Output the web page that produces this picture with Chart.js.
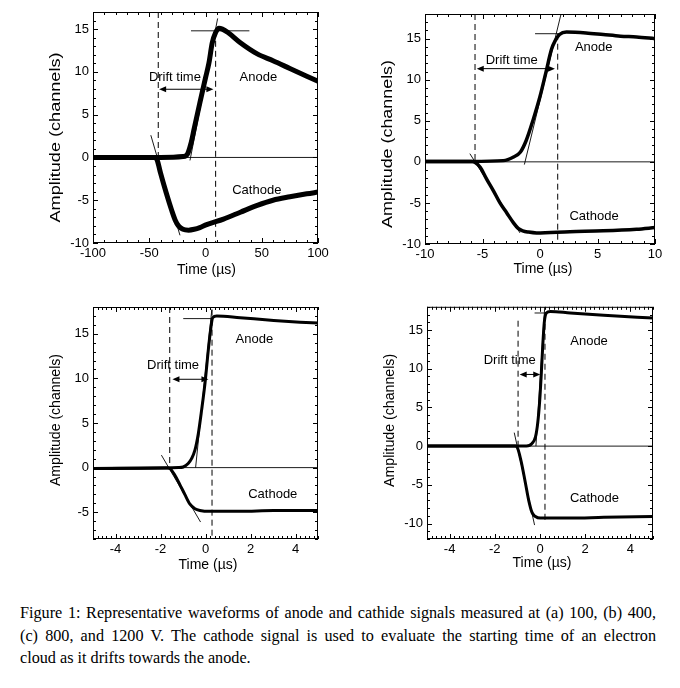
<!DOCTYPE html>
<html>
<head>
<meta charset="utf-8">
<script src="https://cdn.jsdelivr.net/npm/chart.js@4.4.1/dist/chart.umd.min.js"></script>
<style>
  body { margin: 0; background: #fff; width: 680px; height: 688px; position: relative; overflow: hidden; }
  canvas { position: absolute; }
  #caption { position: absolute; left: 20px; top: 602px; width: 636px; color: #000;
    font-family: "Liberation Serif", "DejaVu Serif", serif; font-size: 16.2px; line-height: 22.5px; }
  #caption div { text-align: justify; text-align-last: justify; white-space: nowrap; }
  #caption div.last { text-align-last: left; }
</style>
</head>
<body>
<canvas id="pa" width="340" height="295" style="left:0;top:0"></canvas>
<canvas id="pb" width="340" height="295" style="left:340px;top:0"></canvas>
<canvas id="pc" width="340" height="295" style="left:0;top:295px"></canvas>
<canvas id="pd" width="340" height="295" style="left:340px;top:295px"></canvas>
<div id="caption">
  <div>Figure 1: Representative waveforms of anode and cathide signals measured at (a) 100, (b) 400,</div>
  <div>(c) 800, and 1200 V. The cathode signal is used to evaluate the starting time of an electron</div>
  <div class="last">cloud as it drifts towards the anode.</div>
</div>
<script>
// (a) 100 V
const aXTicks = [-100, -50, 0, 50, 100];
const aYTicks = [-10, -5, 0, 5, 10, 15];
const aAnodeX = [-100, -80, -60, -40, -20, -16, -13, -10, -5, 0, 3, 6, 9, 12, 15, 20, 31, 46, 60, 75, 90, 100];
const aAnodeY = [0, 0, 0, 0, 0.1, 0.4, 1.6, 3.4, 6.4, 9.3, 11, 13.4, 14.6, 15.1, 15.0, 14.6, 13.4, 12.1, 11.3, 10.4, 9.5, 8.9];
const aCathodeX = [-100, -45, -43, -40, -35, -30, -27, -24, -20, -15, -10, -5, 1, 16, 31, 46, 60, 75, 90, 100];
const aCathodeY = [0, 0, -0.3, -1.8, -4.1, -6.2, -7.3, -8.0, -8.4, -8.5, -8.4, -8.2, -7.85, -7.2, -6.4, -5.6, -5.0, -4.6, -4.25, -4.05];

// (b) 400 V
const bXTicks = [-10, -5, 0, 5, 10];
const bYTicks = [-10, -5, 0, 5, 10, 15];
const bAnodeX = [-10, -6, -3.2, -2.3, -1.7, -1.2, -0.6, 0, 0.5, 1.0, 1.3, 1.7, 2.3, 4, 5.5, 7, 8.4, 10];
const bAnodeY = [0.05, 0.05, 0.15, 0.6, 1.2, 2.6, 5.1, 7.95, 10.8, 13.7, 14.7, 15.5, 15.8, 15.7, 15.5, 15.3, 15.2, 15.0];
const bCathodeX = [-10, -5.9, -5.6, -5.2, -4.64, -4.06, -3.48, -2.9, -2.32, -1.9, -1.5, -1.0, -0.3, 2.6, 5.5, 8.4, 10];
const bCathodeY = [0.05, 0.05, -0.1, -0.65, -2.1, -3.5, -5.0, -6.2, -7.4, -8.1, -8.4, -8.55, -8.65, -8.5, -8.4, -8.2, -8.0];

// (c) 800 V
const cXTicks = [-4, -2, 0, 2, 4];
const cYTicks = [-5, 0, 5, 10, 15];
const cAnodeX = [-5, -1.2, -0.99, -0.77, -0.62, -0.47, -0.32, -0.17, -0.02, 0.13, 0.23, 0.32, 0.5, 1.54, 3.03, 4.2, 5];
const cAnodeY = [-0.1, 0, 0.07, 0.45, 1.0, 1.95, 3.8, 6.5, 9.5, 13.3, 15.5, 16.8, 17.0, 16.8, 16.5, 16.3, 16.2];
const cCathodeX = [-5, -1.7, -1.59, -1.36, -1.14, -0.92, -0.69, -0.47, -0.25, 0.2, 1.54, 3.03, 5];
const cCathodeY = [-0.1, -0.05, -0.1, -0.85, -1.9, -3.0, -4.1, -4.6, -4.8, -4.9, -4.9, -4.8, -4.8];

// (d) 1200 V
const dXTicks = [-4, -2, 0, 2, 4];
const dYTicks = [-10, -5, 0, 5, 10, 15];
const dAnodeX = [-5, -0.6, -0.35, -0.2, -0.1, -0.01, 0.06, 0.13, 0.19, 0.28, 0.46, 1.34, 2.82, 4.3, 5];
const dAnodeY = [0, 0, 0.35, 1.2, 3.0, 6.0, 9.5, 13.4, 16.0, 17.2, 17.4, 17.2, 16.9, 16.65, 16.55];
const dCathodeX = [-5, -1.1, -1.02, -0.84, -0.65, -0.5, -0.35, -0.2, 0.01, 1.34, 2.82, 5];
const dCathodeY = [0, 0, -0.1, -1.9, -4.7, -7.0, -8.6, -9.1, -9.3, -9.3, -9.2, -9.1];

// guide lines: [x1, y1, x2, y2]
const aGuides = { anodeFit: [-13.8, -0.35, 10.8, 16.25], peak: [-12.9, 14.8, 39, 14.8], cathodeFit: [-48.6, 2.6, -22.7, -9.1],
  dashL: [-42, 17, -42, 0], dashR: [9, 14.8, 9, -10], arrow: [-41.2, 7.97, 7, 7.97] };
const bGuides = { anodeFit: [-1.36, -0.33, 1.83, 18], peak: [-0.43, 15.6, 1.74, 15.6], cathodeFit: [-6.1, 1.0, -1.74, -8.65],
  dashL: [-5.65, 18, -5.65, 0], dashR: [1.54, 15.6, 1.54, -10], arrow: [-5.5, 11.35, 1.3, 11.35] };
const cGuides = { anodeFit: [-0.44, 0, 0.28, 17.7], peak: [-0.99, 16.7, 0.28, 16.7], cathodeFit: [-1.96, 1.4, -0.22, -6.1],
  dashL: [-1.59, 18, -1.59, 0], dashR: [0.29, 17.7, 0.29, -8], arrow: [-1.47, 9.9, 0.13, 9.9] };
const dGuides = { anodeFit: [-0.18, 0, 0.21, 18], peak: [-0.24, 17.2, 0.24, 17.2], cathodeFit: [-1.14, 1.74, -0.24, -10.2],
  dashL: [-0.97, 16.2, -0.97, 0], dashR: [0.22, 17.1, 0.22, -9.9], arrow: [-0.9, 9.26, 0.01, 9.26] };

// text labels: [text, x, y]
const aLabels = [["Drift time", -27.2, 9.3], ["Anode", 47, 9.3], ["Cathode", 45.6, -3.8]];
const bLabels = [["Drift time", -2.46, 12.4], ["Anode", 4.67, 13.9], ["Cathode", 4.7, -6.7]];
const cLabels = [["Drift time", -1.44, 11.4], ["Anode", 2.17, 14.4], ["Cathode", 2.99, -3.05]];
const dLabels = [["Drift time", -1.34, 11.1], ["Anode", 2.17, 13.5], ["Cathode", 2.41, -6.7]];

const FONT = '"Liberation Sans", Arial, Helvetica, sans-serif';

function pts(xs, ys) { return xs.map((v, i) => ({ x: v, y: ys[i] })); }
function seg(g) { return [{ x: g[0], y: g[1] }, { x: g[2], y: g[3] }]; }

const decor = {
  id: 'decor',
  afterDatasetsDraw(chart) {
    const p = chart.options.plugins.decor;
    const { ctx, chartArea: a, scales: { x, y } } = chart;
    ctx.save();
    ctx.strokeStyle = '#000';
    ctx.fillStyle = '#000';
    ctx.lineWidth = 1;
    ctx.strokeRect(a.left + 0.5, a.top + 0.5, a.right - a.left - 1, a.bottom - a.top - 1);
    function line(x1, y1, x2, y2) { ctx.beginPath(); ctx.moveTo(x1, y1); ctx.lineTo(x2, y2); ctx.stroke(); }
    // x ticks, top and bottom, inward
    let n = Math.round((p.xMax - p.xMin) / p.xMinor);
    for (let i = 0; i <= n; i++) {
      const v = p.xMin + i * p.xMinor;
      const major = p.xTicks.some(t => Math.abs(t - v) < 1e-6);
      const len = major ? 5 : 3;
      const px = Math.round(x.getPixelForValue(v)) + 0.5;
      line(px, a.bottom, px, a.bottom - len);
      line(px, a.top, px, a.top + len);
    }
    n = Math.round((p.yMax - p.yMin) / p.yMinor);
    for (let i = 0; i <= n; i++) {
      const v = p.yMin + i * p.yMinor;
      const major = p.yTicks.some(t => Math.abs(t - v) < 1e-6);
      const len = major ? 5 : 3;
      const py = Math.round(y.getPixelForValue(v)) + 0.5;
      line(a.left, py, a.left + len, py);
      line(a.right, py, a.right - len, py);
    }
    // drift time arrow
    const g = p.guides.arrow;
    const ax1 = x.getPixelForValue(g[0]), ax2 = x.getPixelForValue(g[2]), ay = y.getPixelForValue(g[1]);
    ctx.lineWidth = 1;
    line(ax1 + 3, ay, ax2 - 3, ay);
    function head(tx, dir) {
      ctx.beginPath();
      ctx.moveTo(tx, ay);
      ctx.lineTo(tx - dir * 7, ay - 3);
      ctx.lineTo(tx - dir * 7, ay + 3);
      ctx.closePath();
      ctx.fill();
    }
    head(ax1, -1);
    head(ax2, 1);
    // labels
    ctx.font = '13px ' + FONT;
    ctx.textAlign = 'center';
    ctx.textBaseline = 'middle';
    p.labels.forEach(l => ctx.fillText(l[0], x.getPixelForValue(l[1]), y.getPixelForValue(l[2])));
    // axis titles
    ctx.font = '14px ' + FONT;
    ctx.fillText('Time (\u00b5s)', (a.left + a.right) / 2 + p.xTitle[0], a.bottom + p.xTitle[1]);
    ctx.save();
    ctx.translate(a.left + p.yTitle[0], (a.top + a.bottom) / 2 + p.yTitle[1]);
    ctx.rotate(-Math.PI / 2);
    const t = 'Amplitude (channels)';
    const w = ctx.measureText(t).width;
    ctx.scale(p.yTitle[2] / w, 1);
    ctx.fillText(t, 0, 0);
    ctx.restore();
    ctx.restore();
  }
};

function makePanel(id, c) {
  const thin = { borderColor: '#000', borderWidth: 0.9, pointRadius: 0, tension: 0, fill: false };
  const dash = { borderColor: '#000', borderWidth: 1, pointRadius: 0, tension: 0, fill: false, borderDash: [6, 4] };
  const trace = { borderColor: '#000', borderWidth: c.traceW, pointRadius: 0, fill: false,
    cubicInterpolationMode: 'monotone', borderJoinStyle: 'round', borderCapStyle: 'round' };
  new Chart(document.getElementById(id), {
    type: 'line',
    data: {
      datasets: [
        Object.assign({ data: pts(c.anodeX, c.anodeY) }, trace),
        Object.assign({ data: pts(c.cathodeX, c.cathodeY) }, trace),
        Object.assign({ data: seg([c.xMin, 0, c.xMax, 0]) }, thin),
        Object.assign({ data: seg(c.guides.anodeFit) }, thin),
        Object.assign({ data: seg(c.guides.peak) }, thin),
        Object.assign({ data: seg(c.guides.cathodeFit) }, thin),
        Object.assign({ data: seg(c.guides.dashL) }, dash),
        Object.assign({ data: seg(c.guides.dashR) }, dash)
      ]
    },
    options: {
      responsive: false,
      animation: false,
      layout: { padding: { top: c.padTop, right: c.padRight, left: 0, bottom: 0 } },
      plugins: {
        legend: { display: false },
        tooltip: { enabled: false },
        decor: c
      },
      scales: {
        x: {
          type: 'linear', min: c.xMin, max: c.xMax,
          afterBuildTicks: s => { s.ticks = c.xTicks.map(v => ({ value: v })); },
          afterFit: s => { s.height = c.xAxisH; },
          grid: { display: false, drawTicks: false },
          border: { display: false },
          ticks: { color: '#000', font: { family: FONT, size: 13 }, padding: 3, maxRotation: 0, autoSkip: false,
            callback: v => String(v) }
        },
        y: {
          type: 'linear', min: c.yMin, max: c.yMax,
          afterBuildTicks: s => { s.ticks = c.yTicks.map(v => ({ value: v })); },
          afterFit: s => { s.width = c.yAxisW; },
          grid: { display: false, drawTicks: false },
          border: { display: false },
          ticks: { color: '#000', font: { family: FONT, size: 13 }, padding: 4, autoSkip: false,
            callback: v => String(v) }
        }
      }
    },
    plugins: [decor]
  });
}

makePanel('pa', { xMin: -100, xMax: 100, yMin: -10, yMax: 17, xTicks: aXTicks, yTicks: aYTicks, xMinor: 10, yMinor: 1,
  anodeX: aAnodeX, anodeY: aAnodeY, cathodeX: aCathodeX, cathodeY: aCathodeY, guides: aGuides, labels: aLabels,
  yAxisW: 93, xAxisH: 52, padTop: 12, padRight: 22, traceW: 5, xTitle: [1, 27], yTitle: [-37, 10, 170] });
makePanel('pb', { xMin: -10, xMax: 10, yMin: -10, yMax: 18, xTicks: bXTicks, yTicks: bYTicks, xMinor: 1, yMinor: 1,
  anodeX: bAnodeX, anodeY: bAnodeY, cathodeX: bCathodeX, cathodeY: bCathodeY, guides: bGuides, labels: bLabels,
  yAxisW: 85, xAxisH: 51, padTop: 14, padRight: 25, traceW: 3.5, xTitle: [3, 25], yTitle: [-37, 15, 168] });
makePanel('pc', { xMin: -5, xMax: 5, yMin: -8, yMax: 18, xTicks: cXTicks, yTicks: cYTicks, xMinor: 0.2, yMinor: 1,
  anodeX: cAnodeX, anodeY: cAnodeY, cathodeX: cCathodeX, cathodeY: cCathodeY, guides: cGuides, labels: cLabels,
  yAxisW: 93, xAxisH: 51, padTop: 12, padRight: 22, traceW: 3, xTitle: [2.5, 26], yTitle: [-36.5, -3, 132] });
makePanel('pd', { xMin: -5, xMax: 5, yMin: -12, yMax: 18, xTicks: dXTicks, yTicks: dYTicks, xMinor: 0.2, yMinor: 1,
  anodeX: dAnodeX, anodeY: dAnodeY, cathodeX: dCathodeX, cathodeY: dCathodeY, guides: dGuides, labels: dLabels,
  yAxisW: 87, xAxisH: 51, padTop: 11, padRight: 27, traceW: 3, xTitle: [2, 24], yTitle: [-36.5, -2.5, 133] });
</script>
</body>
</html>
